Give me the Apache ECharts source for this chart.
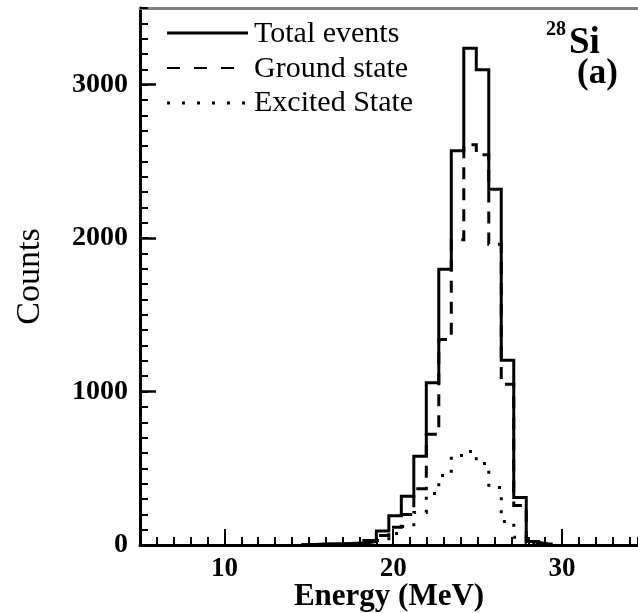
<!DOCTYPE html>
<html>
<head>
<meta charset="utf-8">
<script src="https://cdn.jsdelivr.net/npm/echarts@6/dist/echarts.min.js"></script>
<style>
  html, body { margin: 0; padding: 0; background: #fff; }
  #chart { width: 638px; height: 613px; }
</style>
</head>
<body>
<div id="chart"></div>
<script>
// Bin edges (MeV) and counts per bin
const binEdges = [14.56, 15.30, 16.04, 16.78, 17.52, 18.26, 19.00, 19.74, 20.48, 21.22, 21.96,
                  22.70, 23.44, 24.18, 24.92, 25.66, 26.40, 27.14, 27.88, 28.62, 29.36];
const totalCounts   = [4, 6, 8, 10, 14, 30, 92, 190, 318, 579, 1058, 1797, 2569, 3237, 3097, 2319, 1204, 310, 22, 6];
const groundCounts  = [4, 5, 6, 8, 10, 22, 62, 115, 198, 367, 722, 1340, 1990, 2608, 2543, 1960, 1047, 258, 16, 5];
const excitedCounts = [0, 1, 2, 2, 4, 8, 30, 75, 120, 212, 336, 453, 584, 610, 532, 375, 153, 50, 6, 1];

const xMajorTicks = [10, 20, 30];
const yMajorTicks = [0, 1000, 2000, 3000];

const serif = '"Liberation Serif", "Times New Roman", serif';

// Turns bin counts into points for a step line (histogram outline)
function histPoints(counts) {
    const pts = [[binEdges[0], 0]];
    counts.forEach((c, i) => pts.push([binEdges[i], c]));
    pts.push([binEdges[binEdges.length - 1], 0]);
    return pts;
}

function histSeries(name, counts, lineType, width, z) {
    return {
        name: name,
        type: 'line',
        step: 'end',
        symbol: 'none',
        xAxisIndex: 0,
        yAxisIndex: 0,
        z: z,
        data: histPoints(counts),
        lineStyle: { color: '#000', width: width, type: lineType, join: 'miter' }
    };
}

const chart = echarts.init(document.getElementById('chart'));

const xBase = { type: 'value', min: 5, max: 34.5, splitLine: { show: false } };
const yBase = { type: 'value', min: 0, max: 3500, splitLine: { show: false } };

chart.setOption({
    animation: false,
    grid: { left: 140, right: 0, top: 8, bottom: 68, containLabel: false, outerBoundsMode: 'none' },
    xAxis: [
        {
            ...xBase,
            position: 'bottom',
            interval: 1,
            axisLine: { lineStyle: { color: '#000', width: 3 } },
            axisTick: { inside: true, length: 8, lineStyle: { color: '#000', width: 2 } },
            axisLabel: { show: false }
        },
        {
            ...xBase,
            position: 'bottom',
            axisLine: { show: false },
            axisTick: { inside: true, length: 16, customValues: xMajorTicks, lineStyle: { color: '#000', width: 2 } },
            axisLabel: {
                customValues: xMajorTicks, margin: 11, color: '#000',
                fontFamily: serif, fontWeight: 'bold', fontSize: 27
            },
            name: 'Energy (MeV)',
            nameLocation: 'middle',
            nameGap: 36,
            nameMoveOverlap: false,
            nameTextStyle: { color: '#000', fontFamily: serif, fontWeight: 'bold', fontSize: 31 }
        },
        {
            ...xBase,
            position: 'top',
            axisLine: { lineStyle: { color: '#808080', width: 3 } },
            axisTick: { show: false },
            axisLabel: { show: false }
        }
    ],
    yAxis: [
        {
            ...yBase,
            position: 'left',
            interval: 100,
            axisLine: { lineStyle: { color: '#000', width: 3 } },
            axisTick: { inside: true, length: 8, lineStyle: { color: '#000', width: 2 } },
            axisLabel: { show: false }
        },
        {
            ...yBase,
            position: 'left',
            axisLine: { show: false },
            axisTick: { inside: true, length: 16, customValues: yMajorTicks, lineStyle: { color: '#000', width: 2.5 } },
            axisLabel: {
                customValues: yMajorTicks, margin: 12, color: '#000',
                fontFamily: serif, fontWeight: 'bold', fontSize: 28,
                formatter: v => String(v)
            },
            name: 'Counts',
            nameLocation: 'middle',
            nameRotate: 90,
            nameGap: 93,
            nameMoveOverlap: false,
            nameTextStyle: { color: '#000', fontFamily: serif, fontSize: 34 }
        }
    ],
    series: [
        histSeries('Excited State', excitedCounts, [3, 10], 3, 3),
        histSeries('Ground state', groundCounts, [12, 9], 3, 4),
        histSeries('Total events', totalCounts, 'solid', 3, 5)
    ],
    graphic: [
        // legend
        { type: 'line', shape: { x1: 167, y1: 33, x2: 248, y2: 33 }, style: { stroke: '#000', lineWidth: 3 } },
        { type: 'line', shape: { x1: 167, y1: 68, x2: 246, y2: 68 }, style: { stroke: '#000', lineWidth: 2, lineDash: [13, 14] } },
        { type: 'line', shape: { x1: 167, y1: 103, x2: 246, y2: 103 }, style: { stroke: '#000', lineWidth: 3, lineDash: [3, 12] } },
        { type: 'text', left: 254, top: 19, style: { text: 'Total events', font: '30px ' + serif, fill: '#000' } },
        { type: 'text', left: 254, top: 54, style: { text: 'Ground state', font: '30px ' + serif, fill: '#000' } },
        { type: 'text', left: 254, top: 88, style: { text: 'Excited State', font: '30px ' + serif, fill: '#000' } },
        // nucleus label
        { type: 'text', left: 546, top: 20, style: { text: '28', font: 'bold 20px ' + serif, fill: '#000' } },
        { type: 'text', left: 569, top: 25, style: { text: 'Si', font: 'bold 37px ' + serif, fill: '#000' } },
        { type: 'text', left: 577, top: 56, style: { text: '(a)', font: 'bold 35px ' + serif, fill: '#000' } }
    ]
});
</script>
</body>
</html>
